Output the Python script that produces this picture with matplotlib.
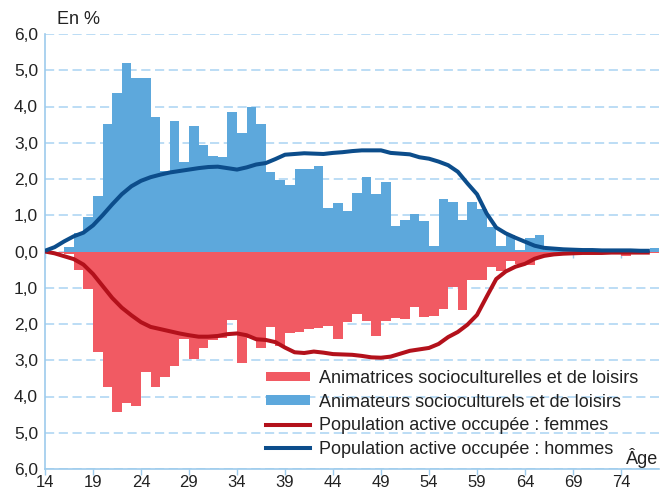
import matplotlib
matplotlib.use("Agg")
import matplotlib.pyplot as plt
from matplotlib.patches import Patch
from matplotlib.lines import Line2D
from matplotlib.ticker import FuncFormatter, MultipleLocator

plt.rcParams['font.family'] = ['Liberation Sans Narrow', 'Liberation Sans', 'DejaVu Sans']

ages = list(range(14, 78))

men_bars = [0.0, 0.0, 0.12, 0.50, 0.94, 1.53, 3.51, 4.38, 5.21, 4.79,
            4.79, 3.70, 2.21, 3.59, 2.47, 3.45, 2.93, 2.63, 2.60, 3.86,
            3.26, 3.98, 3.53, 2.19, 1.97, 1.84, 2.27, 2.27, 2.36, 1.21,
            1.34, 1.12, 1.62, 2.05, 1.59, 1.92, 0.71, 0.88, 1.04, 0.85,
            0.14, 1.45, 1.37, 0.88, 1.37, 1.18, 0.68, 0.14, 0.45, 0.03,
            0.36, 0.46, 0.05, 0.03, 0.02, 0.02, 0.02, 0.02, 0.02, 0.02,
            0.02, 0.02, 0.02, 0.11]

women_bars = [0.02, 0.03, 0.06, 0.52, 1.03, 2.77, 3.73, 4.43, 4.19, 4.27,
              3.32, 3.73, 3.45, 3.15, 2.41, 2.96, 2.66, 2.44, 2.38, 1.89,
              3.07, 2.38, 2.66, 2.08, 2.60, 2.25, 2.22, 2.14, 2.11, 2.05,
              2.41, 1.95, 1.73, 1.93, 2.33, 1.93, 1.84, 1.86, 1.53, 1.81,
              1.78, 1.59, 0.99, 1.62, 0.79, 0.79, 0.44, 0.55, 0.27, 0.35,
              0.38, 0.18, 0.06, 0.05, 0.04, 0.03, 0.03, 0.03, 0.03, 0.03,
              0.12, 0.03, 0.03, 0.03]

men_pop = [0.02, 0.12, 0.28, 0.42, 0.52, 0.72, 1.00, 1.30, 1.58, 1.80,
           1.95, 2.05, 2.12, 2.18, 2.22, 2.26, 2.30, 2.33, 2.34, 2.30,
           2.26, 2.32, 2.40, 2.44, 2.55, 2.67, 2.69, 2.71, 2.70, 2.69,
           2.72, 2.74, 2.77, 2.79, 2.79, 2.79, 2.72, 2.70, 2.68, 2.60,
           2.56, 2.48, 2.38, 2.20, 1.88, 1.58, 1.05, 0.66, 0.50, 0.38,
           0.27, 0.16, 0.10, 0.08, 0.06, 0.05, 0.04, 0.04, 0.03, 0.03,
           0.03, 0.03, 0.02, 0.02]

women_pop = [0.0, 0.05, 0.13, 0.21, 0.36, 0.62, 0.95, 1.28, 1.55, 1.76,
             1.95, 2.08, 2.14, 2.20, 2.26, 2.31, 2.35, 2.35, 2.33, 2.28,
             2.26, 2.31, 2.42, 2.44, 2.50, 2.65, 2.78, 2.80, 2.76, 2.79,
             2.83, 2.84, 2.85, 2.88, 2.92, 2.93, 2.90, 2.82, 2.74, 2.70,
             2.66, 2.55, 2.36, 2.22, 2.02, 1.75, 1.25, 0.76, 0.55, 0.42,
             0.34, 0.20, 0.12, 0.08, 0.06, 0.05, 0.04, 0.04, 0.04, 0.03,
             0.03, 0.03, 0.03, 0.03]

xticks = list(range(14, 78, 5))

labels = ["Animatrices socioculturelles et de loisirs",
          "Animateurs socioculturels et de loisirs",
          "Population active occupée : femmes",
          "Population active occupée : hommes"]

C_BLUE = "#5da8dc"
C_RED = "#f15a63"
C_DBLUE = "#0c4d8b"
C_DRED = "#b3111b"
C_GRID = "#a9d3f2"
C_AXIS = "#9dcbec"

fig = plt.figure(figsize=(6.6, 4.92), dpi=100)
ax = fig.add_axes([45/660, 23/492, 614.4/660, 435/492])

ax.bar(ages, men_bars, width=1.0, align='edge', color=C_BLUE, zorder=2, linewidth=0)
ax.bar(ages, [-v for v in women_bars], width=1.0, align='edge', color=C_RED, zorder=2, linewidth=0)
ax.vlines(xticks, -0.19, 0, color=C_AXIS, lw=1, zorder=1)
ax.plot(ages, [-v for v in women_pop], color=C_DRED, lw=2.9, zorder=3, solid_capstyle='butt')
ax.plot(ages, men_pop, color=C_DBLUE, lw=2.9, zorder=3, solid_capstyle='butt')

ax.set_xlim(14, 78)
ax.set_ylim(-6, 6)
ax.yaxis.set_major_locator(MultipleLocator(1))
ax.yaxis.set_major_formatter(FuncFormatter(lambda v, p: f"{abs(v):.1f}".replace('.', ',')))
ax.set_xticks(xticks)
ax.set_xticklabels([str(t) for t in xticks])

ax.grid(axis='y', color=C_GRID, linestyle=(0, (6, 3)), lw=1.1, zorder=0)
ax.set_axisbelow(True)

for s in ['top', 'right']:
    ax.spines[s].set_visible(False)
for s in ['left', 'bottom']:
    ax.spines[s].set_color(C_AXIS)
    ax.spines[s].set_linewidth(1.2)

ax.tick_params(axis='y', length=0, pad=5, labelsize=12.5, labelcolor='#222222')
ax.tick_params(axis='x', length=4, width=1, color=C_AXIS, pad=0.5, labelsize=12, labelcolor='#222222')

fig.text(57/660, 1 - 20/492, "En %", fontsize=13, color='#222222', va='center', ha='left')
fig.text(658/660, 1 - 458/492, "Âge", fontsize=13, color='#222222', va='center', ha='right')

handles = [Patch(facecolor=C_RED, edgecolor='none'),
           Patch(facecolor=C_BLUE, edgecolor='none'),
           Line2D([], [], color=C_DRED, lw=2.9),
           Line2D([], [], color=C_DBLUE, lw=2.9)]
leg = fig.legend(handles, labels, loc='upper left', bbox_to_anchor=(266/660, 1 - 370/492),
                 frameon=False, fontsize=13, handlelength=2.45, handleheight=0.45,
                 handletextpad=0.5, labelspacing=0.37, borderpad=0, borderaxespad=0)
for t in leg.get_texts():
    t.set_color('#222222')

fig.savefig("out.png", dpi=100)
